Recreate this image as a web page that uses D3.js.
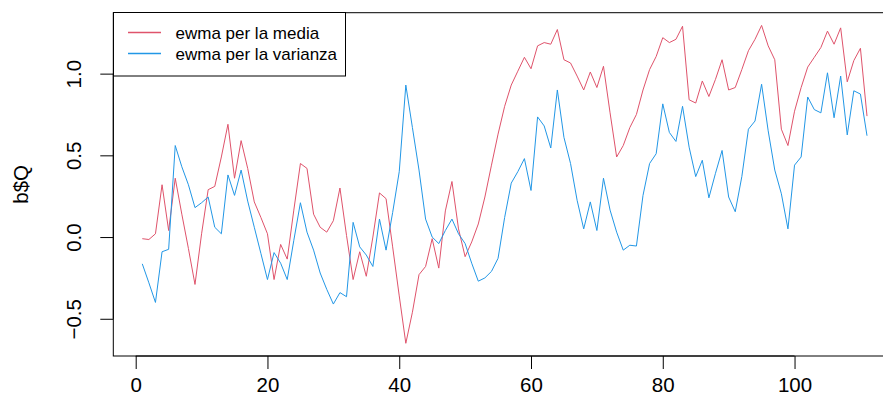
<!DOCTYPE html>
<html>
<head>
<meta charset="utf-8">
<script src="https://cdn.jsdelivr.net/npm/d3@7"></script>
<style>
  html, body { margin: 0; padding: 0; background: #fff; }
  svg { display: block; font-family: "Liberation Sans", Arial, sans-serif; }
</style>
</head>
<body>
<svg id="chart" width="883" height="407"></svg>
<script>
// ── Data (index 1..111) ──────────────────────────────────────────────────────
const ewmaMedia = [
  -0.01, -0.015, 0.02, 0.32, 0.04, 0.36, 0.14, -0.07, -0.29, 0.02,
  0.29, 0.31, 0.49, 0.69, 0.36, 0.59, 0.42, 0.215, 0.12, 0.02,
  -0.26, -0.045, -0.135, 0.165, 0.45, 0.42, 0.14, 0.06, 0.03, 0.10,
  0.30, 0.01, -0.26, -0.09, -0.24, 0.0, 0.27, 0.235, -0.06, -0.36,
  -0.65, -0.46, -0.23, -0.18, -0.01, -0.19, 0.16, 0.34, 0.05, -0.12,
  -0.03, 0.08, 0.245, 0.44, 0.63, 0.80, 0.93, 1.015, 1.10, 1.03,
  1.17, 1.19, 1.18, 1.27, 1.085, 1.065, 0.985, 0.90, 1.01, 0.915,
  1.045, 0.76, 0.49, 0.56, 0.67, 0.75, 0.90, 1.025, 1.105, 1.22,
  1.19, 1.21, 1.29, 0.84, 0.82, 0.955, 0.86, 0.965, 1.085, 0.90,
  0.915, 1.025, 1.14, 1.21, 1.295, 1.17, 1.085, 0.66, 0.56, 0.77,
  0.915, 1.04, 1.10, 1.16, 1.26, 1.18, 1.28, 0.95, 1.08, 1.155,
  0.74
];
const ewmaVarianza = [
  -0.164, -0.28, -0.40, -0.09, -0.075, 0.56, 0.43, 0.32, 0.18, 0.21,
  0.245, 0.06, 0.02, 0.38, 0.255, 0.41, 0.22, 0.06, -0.10, -0.26,
  -0.095, -0.16, -0.26, -0.02, 0.21, 0.03, -0.08, -0.22, -0.32, -0.41,
  -0.34, -0.365, 0.09, -0.06, -0.11, -0.18, 0.11, -0.08, 0.15, 0.40,
  0.93, 0.67, 0.41, 0.11, 0.0, -0.04, 0.04, 0.11, 0.02, -0.04,
  -0.16, -0.27, -0.25, -0.21, -0.13, 0.12, 0.33, 0.40, 0.48, 0.285,
  0.735, 0.68, 0.545, 0.90, 0.61, 0.45, 0.225, 0.05, 0.215, 0.04,
  0.36, 0.165, 0.03, -0.08, -0.05, -0.055, 0.255, 0.45, 0.51, 0.815,
  0.64, 0.585, 0.80, 0.55, 0.37, 0.47, 0.24, 0.39, 0.53, 0.245,
  0.155, 0.37, 0.66, 0.71, 0.935, 0.65, 0.41, 0.265, 0.05, 0.44,
  0.49, 0.857, 0.78, 0.76, 1.005, 0.73, 0.985, 0.625, 0.895, 0.875,
  0.62
];
const seriesNames  = ['ewma per la media', 'ewma per la varianza'];
const seriesColors = ['#DF536B', '#2297E6'];
const xTicks = [0, 20, 40, 60, 80, 100];
const yTicks = [-0.5, 0.0, 0.5, 1.0];
const yLabel = 'b$Q';

// ── Layout (R base graphics look) ─────────────────────────────────────────────
const plotL = 113.3, plotR = 896, plotT = 12.7, plotB = 356;
const AXIS_FONT = 20.5, LEGEND_FONT = 17;
const FAMILY = '"Liberation Sans", Arial, sans-serif';

const svg = d3.select('#chart');

// R pads the data range by 4% on each side
const pad = ([a, b]) => { const d = (b - a) * 0.04; return [a - d, b + d]; };
const n = ewmaMedia.length;
const x = d3.scaleLinear().domain(pad([1, n])).range([plotL, plotR]);
const y = d3.scaleLinear()
  .domain(pad(d3.extent(ewmaMedia.concat(ewmaVarianza))))
  .range([plotB, plotT]);

// series lines
const line = d3.line().x((d, i) => x(i + 1)).y(d => y(d));
[ewmaMedia, ewmaVarianza].forEach((s, k) => {
  svg.append('path')
    .datum(s)
    .attr('d', line)
    .attr('fill', 'none')
    .attr('stroke', seriesColors[k])
    .attr('stroke-width', 1)
    .attr('stroke-linejoin', 'round');
});

// box
svg.append('rect')
  .attr('x', plotL).attr('y', plotT)
  .attr('width', plotR - plotL).attr('height', plotB - plotT)
  .attr('fill', 'none').attr('stroke', '#000').attr('stroke-width', 1);

// x axis
const xAxis = d3.axisBottom(x).tickValues(xTicks).tickSize(13).tickPadding(8)
  .tickFormat(d3.format('d'));
const gx = svg.append('g').attr('transform', `translate(0,${plotB})`).call(xAxis);
gx.select('.domain').attr('d', `M${x(xTicks[0])},0H${x(xTicks[xTicks.length - 1])}`).attr('stroke', '#000');
gx.selectAll('.tick line').attr('stroke', '#000');
gx.selectAll('.tick text').attr('font-size', AXIS_FONT).attr('fill', '#000')
  .attr('font-family', FAMILY);

// y axis (labels parallel to the axis, like R's default)
const yAxis = d3.axisLeft(y).tickValues(yTicks).tickSize(13).tickFormat(d3.format('.1f'));
const gy = svg.append('g').attr('transform', `translate(${plotL},0)`).call(yAxis);
gy.select('.domain').attr('d', `M0,${y(yTicks[0])}V${y(yTicks[yTicks.length - 1])}`).attr('stroke', '#000');
gy.selectAll('.tick line').attr('stroke', '#000');
gy.selectAll('.tick text')
  .attr('x', null).attr('dy', null)
  .attr('transform', 'translate(-32,0) rotate(-90)')
  .attr('text-anchor', 'middle')
  .attr('font-size', AXIS_FONT).attr('fill', '#000')
  .attr('font-family', FAMILY);

svg.append('text')
  .attr('transform', `translate(28,${(plotT + plotB) / 2}) rotate(-90)`)
  .attr('text-anchor', 'middle')
  .attr('font-size', AXIS_FONT)
  .text(yLabel);

// legend
const lg = svg.append('g');
lg.append('rect')
  .attr('x', 113.5).attr('y', 12.5).attr('width', 232).attr('height', 63.5)
  .attr('fill', '#fff').attr('stroke', '#000').attr('stroke-width', 1);
seriesNames.forEach((name, k) => {
  const ly = 32.5 + k * 21;
  lg.append('line')
    .attr('x1', 128).attr('x2', 161).attr('y1', ly).attr('y2', ly)
    .attr('stroke', seriesColors[k]).attr('stroke-width', 1.5);
  lg.append('text')
    .attr('x', 175.5).attr('y', ly + 6)
    .attr('font-size', LEGEND_FONT)
    .text(name);
});
</script>
</body>
</html>
